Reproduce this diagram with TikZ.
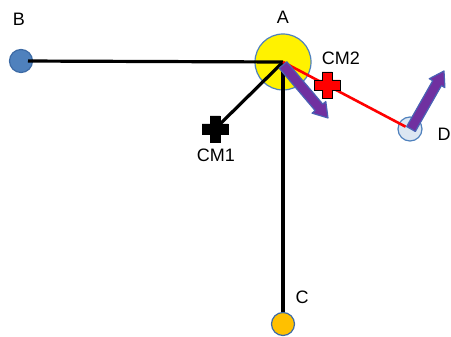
\documentclass[tikz,border=0pt]{standalone}
\usepackage{fontspec}
\setmainfont{Liberation Sans}
\usetikzlibrary{calc}
\definecolor{bblue}{HTML}{4F81BD}
\definecolor{bedge}{HTML}{3C6AA5}
\definecolor{cgold}{HTML}{FFC000}
\definecolor{dfill}{HTML}{DCE6F2}
\definecolor{vpurple}{HTML}{7030A0}
\definecolor{vedge}{HTML}{4A62B5}
\begin{document}
\begin{tikzpicture}[x=1pt,y=-1pt,
  mass/.style={circle,inner sep=0pt,line width=1.2pt},
  lbl/.style={inner sep=0pt,font=\fontsize{18}{20}\selectfont},
  rod/.style={line width=3.2pt,black},
  vec/.style={fill=vpurple,draw=vedge,line width=1.2pt,line join=round}]
\useasboundingbox (0,0) rectangle (451,337);
% masses
\node[mass,fill=yellow,draw=bblue,minimum size=56pt] (A) at (283,62) {};
\node[mass,fill=bblue,draw=bedge,minimum size=23pt] (B) at (21,61) {};
\node[mass,fill=cgold,draw=bedge,minimum size=23pt] (C) at (283,324) {};
\node[mass,fill=dfill,draw=bblue,minimum size=24pt] (D) at (410,129) {};
\coordinate (CM1) at (215,129);
\coordinate (CM2) at (327,85);
% labels
\node[lbl] (lA) at (283,17) {A};
\node[lbl] (lB) at (19,19) {B};
\node[lbl] (lC) at (302,297) {C};
\node[lbl] (lD) at (444,134) {D};
\node[lbl] (lCM1) at (216,155) {CM1};
\node[lbl] (lCM2) at (341,58) {CM2};
% rods
\draw[rod,shorten <=7pt] (B.center) -- (A.center);
\draw[rod] (A.center) -- (C.north);
\draw[rod] (A.center) -- (CM1);
\draw[red,line width=2.6pt,shorten >=5pt] (A.center) -- (D.center);
% velocity arrows
\coordinate (vaP) at (283,65);
\coordinate (vaQ) at (328,118);
\coordinate (vdP) at (411,129);
\coordinate (vdQ) at (444,71);
\foreach \n in {va,vd}{
  \coordinate (\n H) at ($(\n Q)!14pt!(\n P)$);
  \draw[vec] ($(\n P)!5pt!90:(\n Q)$) -- ($(\n H)!5pt!90:(\n Q)$)
    -- ($(\n H)!9pt!90:(\n Q)$) -- (\n Q) -- ($(\n H)!9pt!-90:(\n Q)$)
    -- ($(\n H)!5pt!-90:(\n Q)$) -- ($(\n P)!5pt!-90:(\n Q)$) -- cycle;
}
% centre-of-mass crosses
\draw[fill=black,line width=0.6pt] ($(CM1)+(-5,-13)$) -- ++(10,0) -- ++(0,8) -- ++(8,0) -- ++(0,10) -- ++(-8,0) -- ++(0,8) -- ++(-10,0) -- ++(0,-8) -- ++(-8,0) -- ++(0,-10) -- ++(8,0) -- cycle;
\draw[fill=red,draw=black,line width=0.8pt] ($(CM2)+(-5,-13)$) -- ++(10,0) -- ++(0,8) -- ++(8,0) -- ++(0,10) -- ++(-8,0) -- ++(0,8) -- ++(-10,0) -- ++(0,-8) -- ++(-8,0) -- ++(0,-10) -- ++(8,0) -- cycle;
\end{tikzpicture}
\end{document}
